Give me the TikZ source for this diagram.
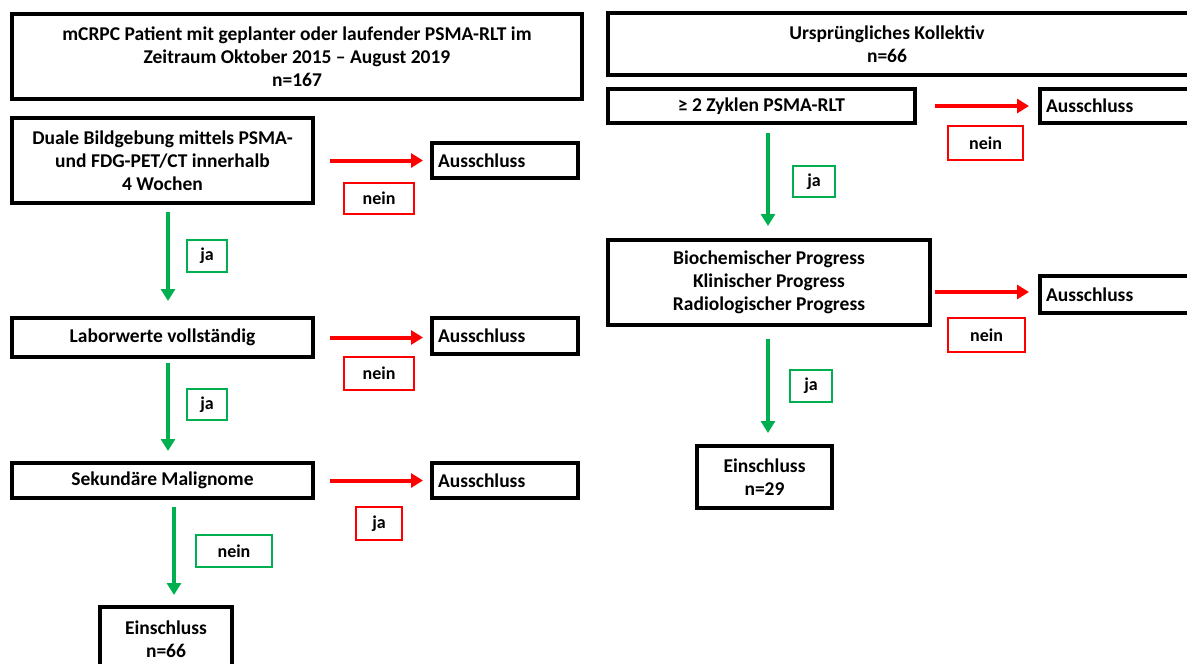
\documentclass[tikz,border=0pt]{standalone}
\usepackage{fontspec}
\setmainfont{Carlito}
\usetikzlibrary{arrows.meta,calc}
\definecolor{gr}{HTML}{00B050}
\definecolor{rd}{HTML}{FF0000}
\begin{document}
\begin{tikzpicture}[x=1pt,y=-1pt,
 box/.style={draw=black,line width=4pt,fill=white,inner sep=0pt,font=\bfseries\fontsize{19.5}{23}\selectfont,align=center},
 lab/.style={line width=2pt,inner sep=0pt,font=\bfseries\fontsize{18}{20}\selectfont},
 nolab/.style={lab,draw=rd},
 yeslab/.style={lab,draw=gr},
 noarr/.style={draw=rd,line width=4pt,-{Triangle[length=12pt,width=14pt]}},
 yesarr/.style={draw=gr,line width=4pt,-{Triangle[length=12pt,width=14pt]}},
]
\useasboundingbox (0,0) rectangle (1187,664);
\clip (0,0) rectangle (1187,664);
% left column
\node[box,minimum width=570,minimum height=85] (topL) at (297,56.5) {mCRPC Patient mit geplanter oder laufender PSMA-RLT im\\Zeitraum Oktober 2015 -- August 2019\\n=167};
\node[box,minimum width=301,minimum height=85] (duale) at (162.5,160.5) {Duale Bildgebung mittels PSMA-\\und FDG-PET/CT innerhalb\\4 Wochen};
\node[box,minimum width=146,minimum height=35,text width=134,align=left] (aus1) at (505,160.5) {Ausschluss};
\node[nolab,minimum width=70,minimum height=31] (nein1) at (379,198.5) {nein};
\node[yeslab,minimum width=40,minimum height=32] (ja1) at (207,256) {ja};
\node[box,minimum width=301,minimum height=39] (labor) at (162.5,337.5) {Laborwerte vollständig};
\node[box,minimum width=146,minimum height=36,text width=134,align=left] (aus2) at (505,336) {Ausschluss};
\node[nolab,minimum width=70,minimum height=33] (nein2) at (379,373.5) {nein};
\node[yeslab,minimum width=40,minimum height=31] (ja2) at (207,404.5) {ja};
\node[box,minimum width=301,minimum height=35] (sek) at (162.5,480.5) {Sekundäre Malignome};
\node[box,minimum width=146,minimum height=35,text width=134,align=left] (aus3) at (505,480.5) {Ausschluss};
\node[nolab,minimum width=46,minimum height=33] (ja3) at (379,523.5) {ja};
\node[yeslab,minimum width=76,minimum height=32] (nein3) at (234,551) {nein};
\node[box,minimum width=132,minimum height=65] (ein1) at (166,639.5) {Einschluss\\n=66};
% right column
\node[box,minimum width=587,minimum height=62] (topR) at (901.5,44) {\hspace*{-29pt}Ursprüngliches Kollektiv\\\hspace*{-29pt}n=66};
\node[box,minimum width=155,minimum height=34,text width=143,align=left] (ausR1) at (1117.5,106) {Ausschluss};
\node[box,minimum width=307,minimum height=34] (zyk) at (761.5,106) {≥ 2 Zyklen PSMA-RLT};
\node[nolab,minimum width=75,minimum height=34] (neinR1) at (985.5,143) {nein};
\node[yeslab,minimum width=42,minimum height=31] (jaR1) at (814,181.5) {ja};
\node[box,minimum width=322,minimum height=85] (prog) at (769,282.5) {Biochemischer Progress\\Klinischer Progress\\Radiologischer Progress};
\node[box,minimum width=155,minimum height=37,text width=143,align=left] (ausR2) at (1117.5,294.5) {Ausschluss};
\node[nolab,minimum width=77,minimum height=34] (neinR2) at (986.5,335) {nein};
\node[yeslab,minimum width=42,minimum height=32] (jaR2) at (811,386) {ja};
\node[box,minimum width=135,minimum height=62] (einR) at (764.5,477) {Einschluss\\n=29};
% connectors
\draw[noarr,shorten <=15pt,shorten >=7pt] (duale.east |- aus1.west) -- (aus1.west);
\draw[noarr,shorten <=15pt,shorten >=7pt] (labor.east) -- (aus2.west |- labor.east);
\draw[noarr,shorten <=15pt,shorten >=7pt] (sek.east) -- (aus3.west);
\draw[yesarr] ($(duale.south)+(5.5,7)$) -- ($(labor.north)+(5.5,-15)$);
\draw[yesarr] ($(labor.south)+(5.5,4)$) -- ($(sek.north)+(5.5,-10)$);
\draw[yesarr] ($(sek.south)+(11.5,7)$) -- ($(ein1.north)+(8,-10)$);
\draw[noarr,shorten <=18pt,shorten >=9pt] (zyk.east |- ausR1.west) -- (ausR1.west);
\draw[noarr,shorten <=3pt,shorten >=9pt] ($(prog.east)+(0,9.5)$) -- ($(ausR2.west)+(0,-2.5)$);
\draw[yesarr] ($(zyk.south)+(6.5,8)$) -- ($(prog.north)+(-1,-12)$);
\draw[yesarr] ($(prog.south)+(-1,12)$) -- ($(einR.north)+(3.5,-11)$);
\end{tikzpicture}
\end{document}
